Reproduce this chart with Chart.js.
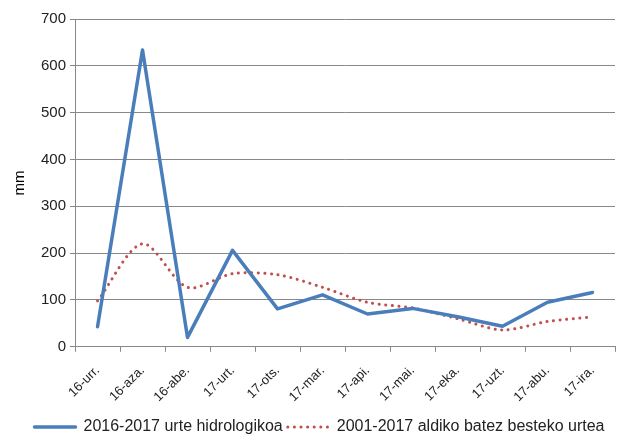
<!DOCTYPE html>
<html><head><meta charset="utf-8">
<script src="https://cdn.jsdelivr.net/npm/chart.js@4"></script>
<style>html,body{margin:0;padding:0;background:#fff}#w{width:621px;height:434px}</style>
</head><body><div id="w"><canvas id="c"></canvas></div>
<script>
const categories = ["16-urr.","16-aza.","16-abe.","17-urt.","17-ots.","17-mar.","17-api.","17-mai.","17-eka.","17-uzt.","17-abu.","17-ira."];
const seriesHydro = [43,634,20,206,81,111,70,82,64,44,95,116];
const seriesAvg = [98,220,127,156,154,127,95,83,60,36,54,64];
const yTicks = [0,100,200,300,400,500,600,700];
const seriesNames = ["2016-2017 urte hidrologikoa","2001-2017 aldiko batez besteko urtea"];

new Chart(document.getElementById('c'), {
  type: 'line',
  data: {
    labels: categories,
    datasets: [
      {label: seriesNames[0], data: seriesHydro, borderColor: '#4a7ebb', backgroundColor: '#4a7ebb', borderWidth: 3.5, pointRadius: 0, tension: 0, borderCapStyle: 'round', borderJoinStyle: 'round'},
      {label: seriesNames[1], data: seriesAvg, borderColor: '#c0504d', backgroundColor: '#c0504d', borderWidth: 3, borderDash: [0.1, 6.5], borderCapStyle: 'round', pointRadius: 0, tension: 0.3}
    ]
  },
  options: {
    animation: false,
    responsive: true,
    maintainAspectRatio: false,
    layout: {padding: {left: 24, right: 6, top: 19, bottom: -11}},
    plugins: {
      legend: {
        position: 'bottom',
        labels: {
          usePointStyle: true,
          pointStyle: 'line',
          pointStyleWidth: 41,
          color: '#222',
          font: {family: 'Liberation Sans', size: 16},
          padding: 5,
          boxHeight: 10,
          generateLabels: (chart) => Chart.defaults.plugins.legend.labels.generateLabels(chart).map((l, i) => Object.assign(l, {
            lineDash: chart.data.datasets[i].borderDash || [],
            lineCap: 'round',
            lineWidth: chart.data.datasets[i].borderWidth
          }))
        }
      },
      tooltip: {enabled: false}
    },
    scales: {
      x: {
        offset: true,
        grid: {offset: true, drawOnChartArea: false, drawTicks: true, tickLength: 5, color: '#888'},
        border: {color: '#888'},
        ticks: {maxRotation: 45, minRotation: 45, color: '#222', font: {family: 'Liberation Sans', size: 13}, padding: 11},
        afterFit: (s) => { s.height -= 2; }
      },
      y: {
        min: 0, max: 700,
        afterBuildTicks: (s) => { s.ticks = yTicks.map(v => ({value: v})); },
        afterFit: (s) => { s.width += 2; },
        grid: {color: '#888', tickLength: 5},
        border: {color: '#888'},
        ticks: {color: '#222', font: {family: 'Liberation Sans', size: 15}, padding: 4},
        title: {display: true, text: 'mm', color: '#000', font: {family: 'Liberation Sans', size: 15}, padding: {top: -13, bottom: 6}}
      }
    }
  }
});
</script></body></html>
